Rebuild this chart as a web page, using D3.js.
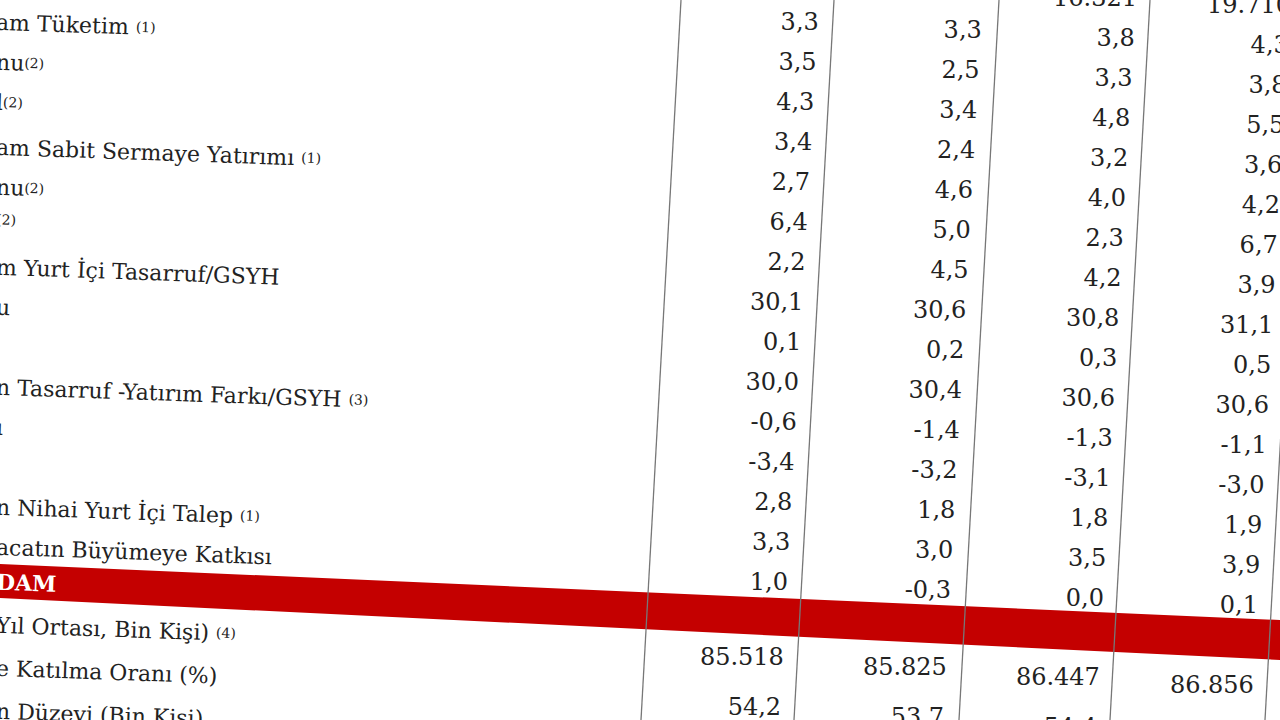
<!DOCTYPE html>
<html>
<head>
<meta charset="utf-8">
<script src="https://cdn.jsdelivr.net/npm/d3@7"></script>
<style>
  body { margin: 0; background: #fff; overflow: hidden; }
  svg { display: block; }
</style>
</head>
<body>
<script>
  // row labels (left edge cut off, as in the photo)
  var labels = [
    ["", ""],
    ["am Tüketim ", "(1)"],
    ["nu", "(2)"],
    ["l", "(2)"],
    ["am Sabit Sermaye Yatırımı ", "(1)"],
    ["nu", "(2)"],
    ["", "(2)"],
    ["m Yurt İçi Tasarruf/GSYH", ""],
    ["u", ""],
    ["", ""],
    ["n Tasarruf -Yatırım Farkı/GSYH ", "(3)"],
    ["ı", ""],
    ["", ""],
    ["n Nihai Yurt İçi Talep ", "(1)"],
    ["acatın Büyümeye Katkısı", ""],
    ["DAM", ""],
    ["Yıl Ortası, Bin Kişi) ", "(4)"],
    ["e Katılma Oranı (%)", ""],
    ["n Düzeyi (Bin Kişi)", ""]
  ];
  var col1 = ["", "3,3", "3,5", "4,3", "3,4", "2,7", "6,4", "2,2", "30,1", "0,1", "30,0", "-0,6", "-3,4", "2,8", "3,3", "1,0", "85.518", "54,2", ""];
  var col2 = ["", "3,3", "2,5", "3,4", "2,4", "4,6", "5,0", "4,5", "30,6", "0,2", "30,4", "-1,4", "-3,2", "1,8", "3,0", "-0,3", "85.825", "53,7", ""];
  var col3 = ["16.321", "3,8", "3,3", "4,8", "3,2", "4,0", "2,3", "4,2", "30,8", "0,3", "30,6", "-1,3", "-3,1", "1,8", "3,5", "0,0", "86.447", "54,4", ""];
  var col4 = ["19.710", "4,3", "3,8", "5,5", "3,6", "4,2", "6,7", "3,9", "31,1", "0,5", "30,6", "-1,1", "-3,0", "1,9", "3,9", "0,1", "86.856", "55,1", ""];
  var columns = [col1, col2, col3, col4];
  var bandRow = 15;

  var W = 1280, H = 720;
  var svg = d3.select("body").append("svg").attr("width", W).attr("height", H);

  // value rows: 40px pitch above the red band, wider below it
  var yVal = function(i) {
    return i <= bandRow ? -18 + i * 40 : 657 + (i - bandRow - 1) * 50;
  };
  var yLab = function(i) {
    return i < bandRow ? -18 + i * 40 + (i > 3 ? 5 : 0) : 582 + (i - bandRow) * 43;
  };
  var colTop = [820, 983, 1136, 1290];   // right edge at y=0
  var colDrop = [0, 8, 16, 23];           // perspective drop per column
  var xCol = function(c, y) { return colTop[c] - 0.055 * y; };

  // red band
  var band = d3.line();
  svg.append("path")
    .attr("d", band([[0, 564], [W, 620], [W, 660], [0, 598]]) + "Z")
    .attr("fill", "#c40000");

  // vertical rules
  var ruleTop = [681, 834, 999, 1150, 1305];
  svg.selectAll("line.rule").data(ruleTop).enter().append("line")
    .attr("x1", function(d) { return d; }).attr("y1", 0)
    .attr("x2", function(d) { return d - 40; }).attr("y2", H)
    .attr("stroke", "#777").attr("stroke-width", 1.3);

  // labels
  var lab = svg.selectAll("text.lab").data(labels).enter().append("text")
    .attr("class", "lab")
    .attr("transform", function(d, i) { return "translate(-4," + yLab(i) + ") rotate(2)"; })
    .attr("dy", "0.35em")
    .attr("font-family", "DejaVu Serif, serif")
    .attr("font-size", 22)
    .attr("fill", function(d, i) { return i === bandRow ? "#fff" : "#222"; })
    .attr("font-weight", function(d, i) { return i === bandRow ? "bold" : "normal"; });
  lab.append("tspan").text(function(d) { return d[0]; });
  lab.append("tspan").attr("font-size", 14).attr("dy", "-0.2em").text(function(d) { return d[1]; });

  // values
  columns.forEach(function(col, c) {
    svg.selectAll("text.v" + c).data(col).enter().append("text")
      .attr("class", "v" + c)
      .attr("x", function(d, i) { return xCol(c, yVal(i)); })
      .attr("y", function(d, i) { return yVal(i) + colDrop[c] * (1 + (i > bandRow ? 0.2 : 0)); })
      .attr("dy", "0.35em")
      .attr("text-anchor", "end")
      .attr("font-family", "DejaVu Serif, serif")
      .attr("font-size", 24)
      .attr("fill", "#222")
      .text(function(d) { return d; });
  });
</script>
</body>
</html>
